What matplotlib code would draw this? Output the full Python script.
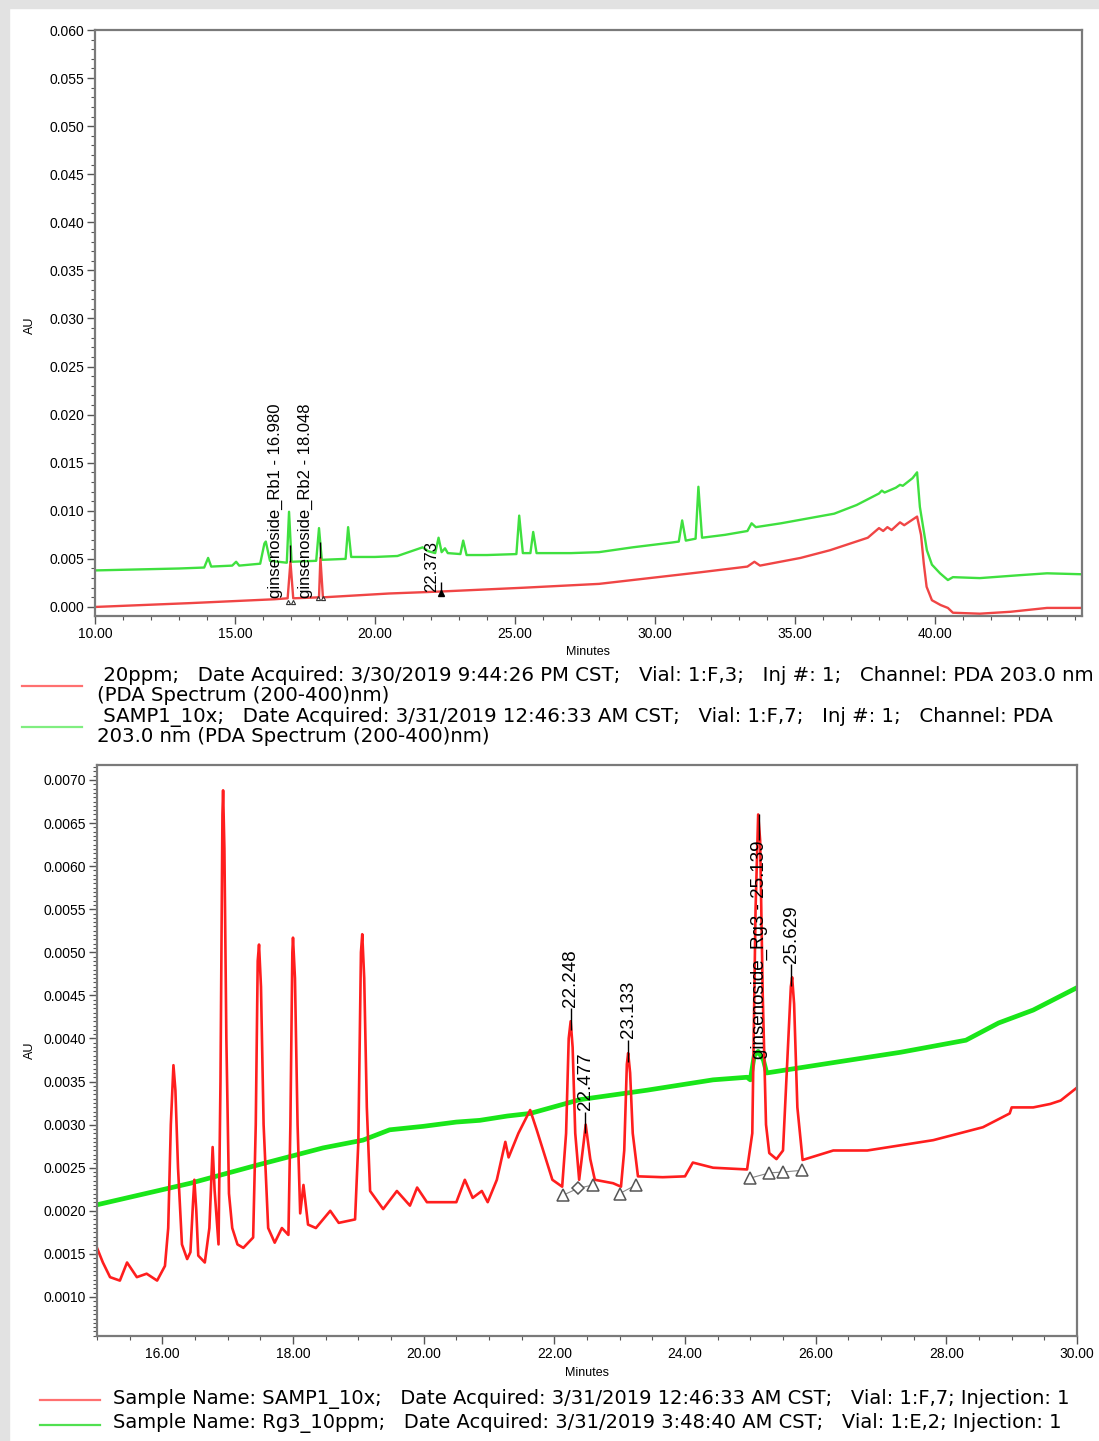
import matplotlib
matplotlib.use("Agg")
import matplotlib.pyplot as plt
from matplotlib.patches import Rectangle
from matplotlib.ticker import MultipleLocator, FixedLocator, FormatStrFormatter

plt.rcParams['font.family'] = ['Liberation Sans', 'DejaVu Sans']

# ---------------- top overlay (PDA 203 nm) ----------------
top_red_t = [10.0, 13.4, 16.4, 16.88, 16.98, 17.08, 18.0, 18.05, 18.14, 20.5, 22.3,
             25.3, 28.0, 29.8, 31.6, 33.3, 33.55, 33.75, 35.2, 36.25, 37.6, 38.0,
             38.15, 38.3, 38.45, 38.75, 38.9, 39.36, 39.5, 39.6, 39.7, 39.89, 40.2,
             40.46, 40.64, 41.6, 42.7, 44.0, 45.25]
top_red_au = [0.0000, 0.0004, 0.0008, 0.0009, 0.0047, 0.0009, 0.0010, 0.0051, 0.0010,
              0.0014, 0.0016, 0.0020, 0.0024, 0.0030, 0.0036, 0.0042, 0.0047, 0.0043,
              0.0051, 0.0059, 0.0072, 0.0082, 0.0079, 0.0083, 0.0080, 0.0088, 0.0085,
              0.0094, 0.0075, 0.0045, 0.0021, 0.0007, 0.0002, -0.0001, -0.0006,
              -0.0007, -0.0005, -0.0001, -0.0001]

top_green_t = [10.0, 11.5, 13.0, 13.9, 14.04, 14.15, 14.9, 15.04, 15.15, 15.9, 16.05,
               16.1, 16.25, 16.85, 16.93, 17.02, 17.9, 18.0, 18.1, 18.95, 19.04, 19.15,
               20.0, 20.8, 21.3, 21.7, 21.9, 22.15, 22.27, 22.38, 22.5, 22.6, 23.05,
               23.15, 23.27, 24.0, 25.05, 25.15, 25.28, 25.55, 25.65, 25.77, 27.0, 28.0,
               29.2, 30.6, 30.85, 30.97, 31.1, 31.45, 31.55, 31.68, 32.5, 33.3, 33.45,
               33.6, 34.5, 36.4, 37.2, 38.0, 38.1, 38.2, 38.6, 38.75, 38.85, 39.2,
               39.36, 39.46, 39.71, 39.89, 40.18, 40.46, 40.64, 41.6, 43.0, 44.0, 45.25]
top_green_au = [0.0038, 0.0039, 0.0040, 0.0041, 0.0051, 0.0042, 0.0043, 0.0047, 0.0043,
                0.0045, 0.0066, 0.0068, 0.0048, 0.0046, 0.0099, 0.0047, 0.0048, 0.0082,
                0.0049, 0.0050, 0.0083, 0.0052, 0.0052, 0.0053, 0.0058, 0.0062, 0.0058,
                0.0056, 0.0072, 0.0057, 0.0061, 0.0056, 0.0055, 0.0069, 0.0054, 0.0054,
                0.0055, 0.0095, 0.0056, 0.0056, 0.0078, 0.0056, 0.0056, 0.0057, 0.0062,
                0.0067, 0.0068, 0.0090, 0.0069, 0.0071, 0.0125, 0.0072, 0.0075, 0.0079,
                0.0087, 0.0083, 0.0087, 0.0097, 0.0106, 0.0118, 0.0121, 0.0119, 0.0124,
                0.0127, 0.0126, 0.0134, 0.0140, 0.0104, 0.0059, 0.0044, 0.0035, 0.0028,
                0.0031, 0.0030, 0.0033, 0.0035, 0.0034]

top_peak_names = ['ginsenoside_Rb1 - 16.980', 'ginsenoside_Rb2 - 18.048', '22.373']
top_peak_rt = [16.980, 18.048, 22.373]
top_peak_au = [0.0047, 0.0051, 0.0014]
top_xticks = [10, 15, 20, 25, 30, 35, 40]

top_legend = [
    " 20ppm;   Date Acquired: 3/30/2019 9:44:26 PM CST;   Vial: 1:F,3;   Inj #: 1;   Channel: PDA 203.0 nm",
    "(PDA Spectrum (200-400)nm)",
    " SAMP1_10x;   Date Acquired: 3/31/2019 12:46:33 AM CST;   Vial: 1:F,7;   Inj #: 1;   Channel: PDA",
    "203.0 nm (PDA Spectrum (200-400)nm)",
]

# ---------------- bottom overlay (zoom 15-30 min) ----------------
bot_red_t = [15.0, 15.09, 15.2, 15.35, 15.46, 15.61, 15.76, 15.92, 16.04, 16.09, 16.13,
             16.17, 16.2, 16.24, 16.3, 16.38, 16.43, 16.47, 16.49, 16.52, 16.55, 16.65,
             16.72, 16.77, 16.8, 16.86, 16.89, 16.92, 16.93, 16.95, 16.98, 17.02, 17.07,
             17.15, 17.24, 17.39, 17.43, 17.46, 17.48, 17.51, 17.55, 17.62, 17.72, 17.83,
             17.93, 17.96, 17.99, 18.0, 18.03, 18.07, 18.11, 18.16, 18.23, 18.35, 18.57,
             18.7, 18.95, 19.0, 19.04, 19.06, 19.09, 19.13, 19.18, 19.38, 19.59, 19.79,
             19.9, 20.05, 20.5, 20.63, 20.75, 20.89, 20.98, 21.12, 21.25, 21.3, 21.45,
             21.63, 21.73, 21.97, 22.12, 22.18, 22.22, 22.25, 22.28, 22.32, 22.38, 22.45,
             22.48, 22.55, 22.62, 22.9, 23.02, 23.07, 23.11, 23.13, 23.16, 23.2, 23.28,
             23.66, 24.0, 24.12, 24.43, 24.95, 25.03, 25.08, 25.12, 25.15, 25.19, 25.24,
             25.29, 25.4, 25.5, 25.57, 25.62, 25.64, 25.67, 25.72, 25.8, 26.27, 26.79,
             27.3, 27.8, 28.56, 28.97, 29.0, 29.33, 29.59, 29.75, 30.0]
bot_red_au = [0.00157, 0.00140, 0.00123, 0.00119, 0.00140, 0.00123, 0.00127, 0.00119,
              0.00136, 0.00180, 0.00300, 0.00369, 0.00340, 0.00250, 0.00161, 0.00144,
              0.00152, 0.00210, 0.00236, 0.00200, 0.00148, 0.00140, 0.00180, 0.00274,
              0.00224, 0.00161, 0.00350, 0.00660, 0.00688, 0.00620, 0.00400, 0.00220,
              0.00180, 0.00161, 0.00157, 0.00169, 0.00300, 0.00490, 0.00509, 0.00460,
              0.00300, 0.00180, 0.00163, 0.00180, 0.00172, 0.00300, 0.00500, 0.00517,
              0.00470, 0.00300, 0.00197, 0.00230, 0.00184, 0.00180, 0.00200, 0.00186,
              0.00190, 0.00280, 0.00500, 0.00521, 0.00470, 0.00320, 0.00223, 0.00202,
              0.00223, 0.00206, 0.00227, 0.00210, 0.00210, 0.00236, 0.00215, 0.00223,
              0.00210, 0.00236, 0.00280, 0.00262, 0.00290, 0.00317, 0.00294, 0.00236,
              0.00228, 0.00290, 0.00400, 0.00420, 0.00390, 0.00290, 0.00236, 0.00280,
              0.00300, 0.00260, 0.00236, 0.00232, 0.00228, 0.00270, 0.00370, 0.00383,
              0.00360, 0.00290, 0.00240, 0.00239, 0.00240, 0.00256, 0.00250, 0.00248,
              0.00290, 0.00550, 0.00660, 0.00630, 0.00450, 0.00300, 0.00267, 0.00260,
              0.00270, 0.00380, 0.00460, 0.00471, 0.00440, 0.00320, 0.00259, 0.00270,
              0.00270, 0.00276, 0.00282, 0.00297, 0.00313, 0.00320, 0.00320, 0.00324,
              0.00328, 0.00343]

bot_green_t = [15.0, 16.43, 17.45, 18.46, 19.07, 19.48, 19.99, 20.5, 20.86, 21.28, 21.63,
               22.39, 23.42, 24.43, 24.95, 25.0, 25.06, 25.12, 25.2, 25.25, 26.27, 27.3,
               28.3, 28.8, 29.33, 30.0]
bot_green_au = [0.00207, 0.00232, 0.00253, 0.00273, 0.00282, 0.00294, 0.00298, 0.00303,
                0.00305, 0.00310, 0.00313, 0.00329, 0.00340, 0.00352, 0.00355, 0.00352,
                0.00380, 0.00385, 0.00375, 0.00360, 0.00372, 0.00384, 0.00398, 0.00418,
                0.00433, 0.00459]

bot_peak_names = ['22.248', '22.477', '23.133', 'ginsenoside_Rg3 - 25.139', '25.629']
bot_peak_rt = [22.248, 22.477, 23.133, 25.139, 25.629]
bot_peak_au = [0.00420, 0.00300, 0.00383, 0.00660, 0.00471]

# integration marks (start / end of each peak)
bot_mark_t = [22.13, 22.36, 22.59, 23.00, 23.25, 25.00, 25.29, 25.50, 25.79]
bot_mark_au = [0.00218, 0.00226, 0.00230, 0.00220, 0.00230, 0.00238, 0.00244, 0.00245, 0.00247]
bot_mark_shape = ['^', 'D', '^', '^', '^', '^', '^', '^', '^']

bot_legend = [
    "Sample Name: SAMP1_10x;   Date Acquired: 3/31/2019 12:46:33 AM CST;   Vial: 1:F,7; Injection: 1",
    "Sample Name: Rg3_10ppm;   Date Acquired: 3/31/2019 3:48:40 AM CST;   Vial: 1:E,2; Injection: 1",
]

W, H = 1099, 1441
fig = plt.figure(figsize=(W / 100, H / 100), dpi=100, facecolor='white')
fig.patches.append(Rectangle((0, 0), 9 / W, 1, transform=fig.transFigure,
                             color='#e2e2e2', zorder=0))
fig.patches.append(Rectangle((0, 1 - 8 / H), 1, 8 / H, transform=fig.transFigure,
                             color='#e2e2e2', zorder=0))


def px_axes(x0, y0, x1, y1):
    return fig.add_axes([x0 / W, 1 - y1 / H, (x1 - x0) / W, (y1 - y0) / H])


def fx(x):
    return x / W


def fy(y):
    return 1 - y / H


def style_axes(ax):
    for s in ax.spines.values():
        s.set_color('#7a7a7a')
        s.set_linewidth(1.6)
    ax.tick_params(which='major', direction='out', length=6, width=1, color='#555555',
                   labelsize=10, pad=2)
    ax.tick_params(which='minor', direction='out', length=3, width=0.8, color='#555555')


legend_font = dict(family=['DejaVu Sans'], fontsize=14.2)

# ---- top panel ----
ax1 = px_axes(95, 30, 1082, 616)
ax1.plot(top_green_t, top_green_au, color='#3fe03f', lw=1.7)
ax1.plot(top_red_t, top_red_au, color='#f04545', lw=1.7)
ax1.set_xlim(10, 45.25)
ax1.set_ylim(-0.00094, 0.060)
ax1.xaxis.set_major_locator(FixedLocator(top_xticks))
ax1.xaxis.set_minor_locator(MultipleLocator(1))
ax1.yaxis.set_major_locator(MultipleLocator(0.005))
ax1.yaxis.set_minor_locator(MultipleLocator(0.001))
ax1.xaxis.set_major_formatter(FormatStrFormatter('%.2f'))
ax1.yaxis.set_major_formatter(FormatStrFormatter('%.3f'))
style_axes(ax1)

for name, rt, au in zip(top_peak_names, top_peak_rt, top_peak_au):
    if name.startswith('ginsenoside'):
        ax1.vlines(rt, au, au + 0.0017, color='black', lw=1)
        ax1.text(rt - 0.25, 0.0009, name, rotation=90, ha='right', va='bottom',
                 fontsize=12)
        ax1.plot([rt - 0.1, rt + 0.1], [au - 0.0042, au - 0.0042], ls='none',
                 marker='^', ms=3, mfc='none', mec='#333333', mew=0.8)
    else:
        ax1.vlines(rt, au, au + 0.0012, color='black', lw=1)
        ax1.plot(rt, au, marker='^', ms=5, color='black')
        ax1.text(rt - 0.1, au + 0.0002, name, rotation=90, ha='right', va='bottom',
                 fontsize=12)

fig.text(fx(30), fy(325), 'AU', rotation=90, ha='center', va='center', fontsize=9)
fig.text(fx(588), fy(652), 'Minutes', ha='center', va='center', fontsize=9)

fig.add_artist(plt.Line2D([fx(22), fx(82)], [fy(686), fy(686)], color='#ff7070', lw=1.6))
fig.add_artist(plt.Line2D([fx(22), fx(82)], [fy(727), fy(727)], color='#80ee80', lw=1.6))
for txt, y in zip(top_legend, [675, 695, 717, 737]):
    fig.text(fx(97), fy(y), txt, ha='left', va='center', **legend_font)

# ---- bottom panel ----
ax2 = px_axes(97, 765, 1077, 1336)
ax2.plot(bot_green_t, bot_green_au, color='#19e619', lw=3.4)
ax2.plot(bot_red_t, bot_red_au, color='#ff1e1e', lw=1.9)
ax2.plot(bot_mark_t[:3], bot_mark_au[:3], color='#888888', lw=0.8)
ax2.plot(bot_mark_t[3:5], bot_mark_au[3:5], color='#888888', lw=0.8)
ax2.plot(bot_mark_t[5:], bot_mark_au[5:], color='#888888', lw=0.8)
for t, a, m in zip(bot_mark_t, bot_mark_au, bot_mark_shape):
    ax2.plot(t, a, marker=m, ms=9 if m == '^' else 6, mfc='white', mec='#555555',
             mew=1.1, ls='none')
ax2.set_xlim(15, 30)
ax2.set_ylim(0.000547, 0.007174)
ax2.xaxis.set_major_locator(MultipleLocator(2))
ax2.xaxis.set_minor_locator(MultipleLocator(0.5))
ax2.yaxis.set_major_locator(MultipleLocator(0.0005))
ax2.yaxis.set_minor_locator(MultipleLocator(0.00005))
ax2.xaxis.set_major_formatter(FormatStrFormatter('%.2f'))
ax2.yaxis.set_major_formatter(FormatStrFormatter('%.4f'))
style_axes(ax2)

for name, rt, au in zip(bot_peak_names, bot_peak_rt, bot_peak_au):
    if name.startswith('ginsenoside'):
        ax2.vlines(rt, au - 0.0003, au, color='black', lw=1)
        ax2.text(rt, au - 0.0003, name, rotation=90, ha='center', va='top',
                 fontsize=13.5)
    else:
        ax2.vlines(rt, au - 0.0001, au + 0.00015, color='black', lw=1)
        ax2.text(rt, au + 0.00017, name, rotation=90, ha='center', va='bottom',
                 fontsize=13.5)

fig.text(fx(30), fy(1050), 'AU', rotation=90, ha='center', va='center', fontsize=9)
fig.text(fx(587), fy(1373), 'Minutes', ha='center', va='center', fontsize=9)

fig.add_artist(plt.Line2D([fx(40), fx(100)], [fy(1400), fy(1400)], color='#ff7070', lw=1.6))
fig.add_artist(plt.Line2D([fx(40), fx(100)], [fy(1425), fy(1425)], color='#50e050', lw=1.6))
for txt, y in zip(bot_legend, [1399, 1423]):
    fig.text(fx(113), fy(y), txt, ha='left', va='center', family=['DejaVu Sans'],
             fontsize=14)

fig.savefig('out.png', dpi=100, facecolor='white')
